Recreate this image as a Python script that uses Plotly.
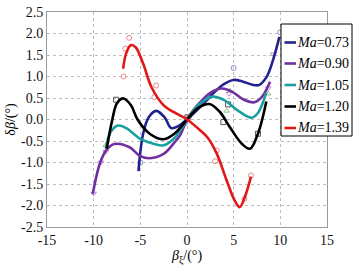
import plotly.graph_objects as go

# ---------------- data ----------------
series_names = ["0.73", "0.90", "1.05", "1.20", "1.39"]

# fitted curves
blue_x = [-5.2, -4.7, -4.1, -3.3, -2.4, -1.7, -0.9, 0.0, 1.0, 2.0, 3.0, 4.0, 5.0, 6.0, 7.0, 7.7, 8.5, 9.2, 9.9]
blue_y = [-1.2, -0.33, 0.05, 0.2, 0.05, -0.2, -0.15, 0.0, 0.2, 0.42, 0.65, 0.83, 0.92, 0.88, 0.81, 0.8, 0.98, 1.37, 1.92]

purple_x = [-10.1, -9.3, -8.6, -7.8, -6.2, -5.0, -4.0, -2.5, -1.4, -0.7, 0.0, 1.2, 2.5, 3.7, 4.8, 6.0, 7.2, 8.0, 8.9]
purple_y = [-1.73, -1.0, -0.7, -0.57, -0.64, -0.85, -0.9, -0.8, -0.55, -0.35, 0.0, 0.35, 0.62, 0.72, 0.65, 0.47, 0.4, 0.52, 0.88]

cyan_x = [-8.7, -8.2, -7.4, -6.5, -5.0, -3.5, -2.5, -1.3, 0.0, 1.3, 2.7, 4.0, 5.5, 6.9, 7.6, 8.5]
cyan_y = [-0.68, -0.3, -0.14, -0.2, -0.45, -0.57, -0.6, -0.42, 0.0, 0.35, 0.53, 0.45, 0.2, 0.04, 0.15, 0.63]

black_x = [-8.6, -8.0, -7.5, -6.8, -6.0, -5.3, -4.0, -2.5, -1.3, 0.0, 1.2, 2.4, 3.5, 4.6, 5.9, 6.75, 7.6, 8.5]
black_y = [-0.68, 0.0, 0.38, 0.49, 0.33, 0.0, -0.33, -0.46, -0.32, 0.0, 0.27, 0.36, 0.18, -0.18, -0.57, -0.68, -0.33, 0.42]

red_x = [-6.85, -6.5, -6.0, -5.5, -4.7, -3.8, -2.5, -1.4, 0.0, 1.4, 2.2, 3.2, 4.25, 5.1, 5.65, 6.2, 6.86]
red_y = [1.18, 1.55, 1.73, 1.68, 1.3, 0.75, 0.33, 0.17, 0.0, -0.25, -0.42, -0.8, -1.42, -1.88, -2.04, -1.8, -1.33]

# measured points
blue_px = [-5.0, -0.2, 5.0, 10.0]
blue_py = [-1.0, -0.08, 1.2, 2.03]

purple_px = [-10.0, -9.2, -8.7, 0.1, 4.5, 8.7, 9.25]
purple_py = [-1.72, -1.0, -0.75, 0.02, 0.6, 0.73, 1.52]

cyan_px = [-8.7, 0.0, 4.25, 4.6, 8.7]
cyan_py = [-0.6, 0.03, 0.2, 0.67, 0.6]

black_px = [-7.6, 0.05, 3.9, 4.4, 7.6]
black_py = [0.46, 0.05, -0.06, 0.35, -0.33]

red_px = [-6.8, -6.6, -6.2, -3.3, -3.5, 0.2, 3.2, 3.0, 6.15, 6.86]
red_py = [1.0, 1.65, 1.9, 0.79, 0.52, 0.05, -0.72, -0.97, -1.85, -1.3]

x_tickvals = [-15, -10, -5, 0, 5, 10, 15]
x_ticktext = ["-15", "-10", "-5", "0", "5", "10", "15"]
y_tickvals = [2.5, 2.0, 1.5, 1.0, 0.5, 0.0, -0.5, -1.0, -1.5, -2.0, -2.5]
y_ticktext = ["2.5", "2.0", "1.5", "1.0", "0.5", "0.0", "-0.5", "-1.0", "-1.5", "-2.0", "-2.5"]

# ---------------- styles ----------------
line_colors = ["#23238f", "#7030a0", "#1aa0a0", "#000000", "#e01818"]
marker_colors = ["#8c8ccc", "#c58ad8", "#8cc08c", "#555555", "#e88888"]
marker_symbols = ["circle-open", "triangle-down-open", "triangle-up-open", "square-open", "circle-open"]

curves = [(blue_x, blue_y), (purple_x, purple_y), (cyan_x, cyan_y), (black_x, black_y), (red_x, red_y)]
points = [(blue_px, blue_py), (purple_px, purple_py), (cyan_px, cyan_py), (black_px, black_py), (red_px, red_py)]

FONT = "Liberation Serif"

fig = go.Figure()
for i in range(5):
    px_, py_ = points[i]
    fig.add_trace(go.Scatter(x=px_, y=py_, mode="markers", showlegend=False,
                             marker=dict(symbol=marker_symbols[i], size=5, color=marker_colors[i],
                                         line=dict(width=1, color=marker_colors[i]))))
for i in range(5):
    cx, cy = curves[i]
    fig.add_trace(go.Scatter(x=cx, y=cy, mode="lines", showlegend=False,
                             line=dict(color=line_colors[i], width=2.6, shape="spline", smoothing=1.0)))

# ---------------- manual legend ----------------
L, T, W, H = 47, 12, 280, 215
def px2x(p):
    return (p - L) / W
def py2y(p):
    return (T + H - p) / H

fig.add_shape(type="rect", xref="paper", yref="paper",
              x0=px2x(281), x1=px2x(352), y0=py2y(136), y1=py2y(24),
              line=dict(color="#000000", width=1), fillcolor="white", layer="above")

row_line_y = [42.5, 63.5, 85, 106.5, 128]
row_mark_y = [31, 52, 73.5, 95, 116.5]
leg_mx, leg_my = [], []
for i in range(5):
    fig.add_shape(type="line", xref="paper", yref="paper",
                  x0=px2x(284.5), x1=px2x(296), y0=py2y(row_line_y[i]), y1=py2y(row_line_y[i]),
                  line=dict(color=line_colors[i], width=2.6), layer="above")
    fig.add_annotation(xref="paper", yref="paper", x=px2x(295.5), y=py2y(row_line_y[i]),
                       xanchor="left", yanchor="middle", showarrow=False, borderpad=0,
                       text="<i>Ma</i>=" + series_names[i],
                       font=dict(family=FONT, size=14, color="#000000"))
    leg_mx.append(px2x(290.5))
    leg_my.append(py2y(row_mark_y[i]))

for i in range(5):
    fig.add_trace(go.Scatter(x=[leg_mx[i]], y=[leg_my[i]], xaxis="x2", yaxis="y2", mode="markers",
                             showlegend=False, cliponaxis=False,
                             marker=dict(symbol=marker_symbols[i], size=5, color=marker_colors[i],
                                         line=dict(width=1, color=marker_colors[i]))))

axis_common = dict(showline=True, linecolor="#9a9a9a", linewidth=1, mirror=True,
                   showgrid=True, gridcolor="#bdbdbd", griddash="dot", gridwidth=1,
                   zeroline=False, ticks="", automargin=False,
                   tickfont=dict(family=FONT, size=14, color="#111111"))

fig.update_layout(
    template="none",
    width=360, height=268,
    margin=dict(l=L, r=360 - L - W, t=T, b=268 - T - H),
    paper_bgcolor="white", plot_bgcolor="white",
    showlegend=False,
    xaxis=dict(range=[-15, 15], tickvals=x_tickvals, ticktext=x_ticktext,
               title=dict(text="<i>β</i><sub>ξ</sub>/(°)", font=dict(family=FONT, size=14, color="#000"), standoff=2),
               **axis_common),
    yaxis=dict(range=[-2.5, 2.5], tickvals=y_tickvals, ticktext=y_ticktext,
               title=dict(text="δ<i>β</i>/(°)", font=dict(family=FONT, size=14, color="#000"), standoff=2),
               **axis_common),
    xaxis2=dict(range=[0, 1], overlaying="x", visible=False, fixedrange=True, automargin=False),
    yaxis2=dict(range=[0, 1], overlaying="y", visible=False, fixedrange=True, automargin=False),
)

fig.write_html("out.html", config={"displayModeBar": False, "staticPlot": True},
               post_script="document.body.style.margin='0';document.body.style.overflow='hidden';")
